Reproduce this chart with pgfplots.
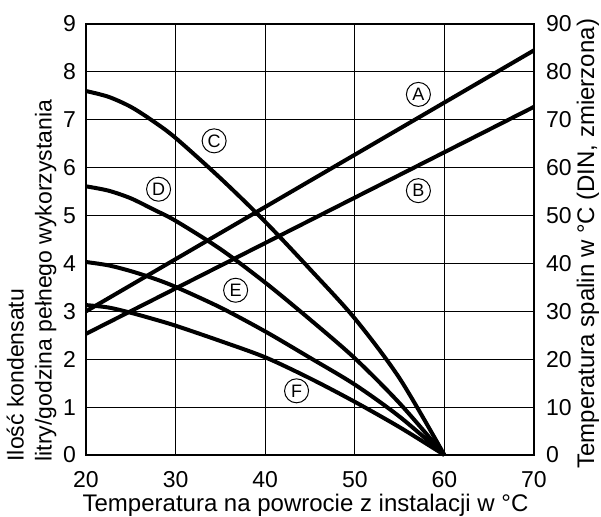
\documentclass[border=0pt]{standalone}
\usepackage{fontspec}
\setmainfont{Liberation Sans}
\usepackage{pgfplots}
\pgfplotsset{compat=1.18}

\begin{document}
\begin{tikzpicture}
\pgfplotsset{
  base/.style={
    scale only axis, width=224pt, height=215.5pt,
    xmin=20, xmax=70, xtick={20,30,...,70},
    axis line style={line width=0.6pt},
    major tick length=0pt,
    tick label style={font=\fontsize{11.5}{13}\selectfont},
    /pgf/number format/assume math mode=true,
    label style={font=\fontsize{12}{14.5}\selectfont, inner sep=0pt},
  },
  curve/.style={black, line width=2pt, smooth, tension=0.5, no markers},
}
\tikzset{
  lbl/.style={circle, draw, line width=0.5pt, minimum size=12pt, inner sep=0pt,
    fill=white, font=\fontsize{9}{9}\selectfont},
}
\begin{axis}[base, ymin=0, ymax=9, ytick={0,...,9},
  grid=major, grid style={black, line width=0.5pt},
  clip=false,
  yticklabel style={xshift=-1.5pt},
  xticklabel style={yshift=-4.5pt},
  xlabel={Temperatura na powrocie z instalacji w °C},
  xlabel style={at={(axis description cs:0.49,-0.13)}, anchor=base},
  ylabel={Ilość kondensatu\\litry/godzina pełnego wykorzystania},
  ylabel style={align=left, font=\fontsize{11.5}{14}\selectfont,
    at={(axis description cs:-0.178,-0.016)}, anchor=north west},
]
% C
\addplot[curve] coordinates {
  (20,7.6) (22.5,7.48) (25,7.27) (27.5,6.97) (30,6.62) (35,5.78) (40,4.87)
  (45,3.88) (50,2.85) (55,1.6) (60,0)
};
% D
\addplot[curve] coordinates {
  (20,5.61) (22.5,5.52) (25,5.36) (27.5,5.13) (30,4.89) (35,4.3) (40,3.6)
  (45,2.83) (50,2.02) (55,1.08) (60,0)
};
% E
\addplot[curve] coordinates {
  (20,4.03) (22.5,3.96) (25,3.84) (27.5,3.69) (30,3.51) (35,3.08) (40,2.58)
  (45,2.03) (50,1.47) (55,0.8) (60,0)
};
% F
\addplot[curve] coordinates {
  (20,3.13) (22.5,3.08) (25,2.97) (27.5,2.84) (30,2.7) (35,2.38) (40,2.04)
  (45,1.6) (50,1.11) (55,0.58) (60,0)
};
\node[lbl] at (axis cs:34.3,6.56) {C};
\node[lbl] at (axis cs:28.1,5.55) {D};
\node[lbl] at (axis cs:36.7,3.44) {E};
\node[lbl] at (axis cs:43.5,1.34) {F};
\node[lbl] at (axis cs:57.1,7.53) {A};
\node[lbl] at (axis cs:57.1,5.52) {B};
\coordinate (bl) at (rel axis cs:0,0);
\end{axis}
\begin{axis}[base, ymin=0, ymax=90, ytick={0,10,...,90},
  axis y line*=right, axis x line=none,
  yticklabel style={xshift=2.5pt},
  ylabel={Temperatura spalin w °C (DIN, zmierzona)},
  ylabel style={at={(axis description cs:1.1205,0.49)}, anchor=center},
]
% A
\addplot[curve] coordinates {(20,30) (70,84.5)};
% B
\addplot[curve] coordinates {(20,25.3) (70,72.7)};
\end{axis}
\path (bl) ++(-43pt,-30.5pt) rectangle ++(300.5pt,258pt);
\end{tikzpicture}
\end{document}
